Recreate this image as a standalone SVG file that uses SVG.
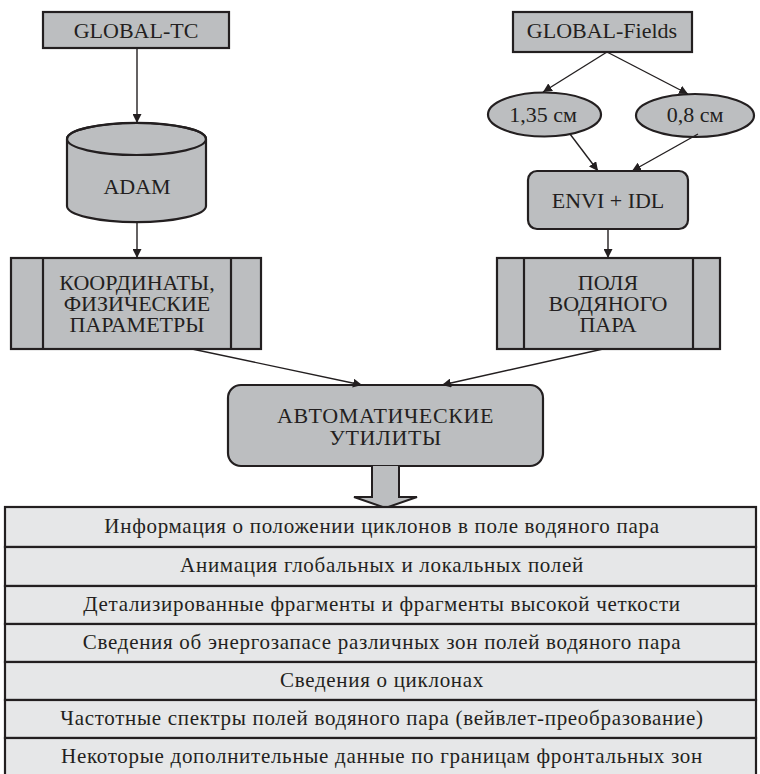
<svg xmlns="http://www.w3.org/2000/svg" width="760" height="774" viewBox="0 0 760 774">
<defs>
<marker id="ah" viewBox="0 0 10 10" refX="10" refY="5" markerWidth="9" markerHeight="9" markerUnits="userSpaceOnUse" orient="auto">
<path d="M0,0 L10,5 L0,10 z" fill="#231f20"/>
</marker>
</defs>
<rect width="760" height="774" fill="#ffffff"/>
<g font-family="Liberation Serif" fill="#231f20" text-anchor="middle">
<g stroke="#231f20" stroke-width="2.2">
<g id="global-tc">
<rect fill="#bcbec0" x="43" y="12" width="186" height="36"/>
<text stroke="none" x="136" y="38" font-size="22">GLOBAL-TC</text>
</g>
<g id="adam">
<path fill="#bcbec0" d="M67,139 L67,206 A69,16 0 0 0 206,206 L206,139 A69,16 0 0 0 67,139 Z"/>
<ellipse cx="136.5" cy="139" rx="69.5" ry="16" fill="none"/>
<text stroke="none" x="137" y="194" font-size="22">ADAM</text>
</g>
<g id="coords">
<rect fill="#bcbec0" x="11" y="258" width="250" height="91"/>
<line x1="43" y1="258" x2="43" y2="349"/>
<line x1="231" y1="258" x2="231" y2="349"/>
<text stroke="none" x="137" y="290" font-size="22">КООРДИНАТЫ,</text>
<text stroke="none" x="137" y="311" font-size="22">ФИЗИЧЕСКИЕ</text>
<text stroke="none" x="137" y="332" font-size="22">ПАРАМЕТРЫ</text>
</g>
<g id="global-fields">
<rect fill="#bcbec0" x="513" y="12" width="179" height="40"/>
<text stroke="none" x="602" y="38" font-size="22">GLOBAL-Fields</text>
</g>
<g id="e135">
<ellipse fill="#bcbec0" cx="544.5" cy="114.5" rx="56.5" ry="22"/>
<text stroke="none" x="543" y="122" font-size="22">1,35 см</text>
</g>
<g id="e08">
<ellipse fill="#bcbec0" cx="695" cy="115.5" rx="59" ry="21.5"/>
<text stroke="none" x="695" y="122" font-size="22">0,8 см</text>
</g>
<g id="envi">
<rect fill="#bcbec0" x="528" y="171" width="160" height="58" rx="9"/>
<text stroke="none" x="608" y="208" font-size="22">ENVI + IDL</text>
</g>
<g id="fields">
<rect fill="#bcbec0" x="497" y="258" width="223" height="91"/>
<line x1="524" y1="258" x2="524" y2="349"/>
<line x1="693" y1="258" x2="693" y2="349"/>
<text stroke="none" x="608" y="290" font-size="22">ПОЛЯ</text>
<text stroke="none" x="608" y="311" font-size="22">ВОДЯНОГО</text>
<text stroke="none" x="608" y="332" font-size="22">ПАРА</text>
</g>
<g id="auto">
<rect fill="#bcbec0" x="228" y="385" width="315" height="81" rx="13"/>
<text stroke="none" x="385.5" y="423" font-size="22" letter-spacing="0.6">АВТОМАТИЧЕСКИЕ</text>
<text stroke="none" x="385.5" y="445" font-size="22" letter-spacing="0.6">УТИЛИТЫ</text>
</g>
</g>
<g id="connectors" stroke="#231f20" stroke-width="1.4" fill="none">
<line marker-end="url(#ah)" x1="137" y1="48" x2="137" y2="123"/>
<line marker-end="url(#ah)" x1="137" y1="222" x2="137" y2="258"/>
<line marker-end="url(#ah)" x1="607" y1="52" x2="543" y2="92"/>
<line marker-end="url(#ah)" x1="607" y1="52" x2="688" y2="94"/>
<line marker-end="url(#ah)" x1="570" y1="134" x2="598" y2="171"/>
<line marker-end="url(#ah)" x1="698" y1="134" x2="632" y2="171"/>
<line marker-end="url(#ah)" x1="608" y1="229" x2="608" y2="258"/>
<line marker-end="url(#ah)" x1="192" y1="349" x2="362" y2="385"/>
<line marker-end="url(#ah)" x1="603" y1="349" x2="442" y2="385"/>
<path d="M372,466 L372,497 L354,497 L385.5,508 L417,497 L399,497 L399,466" fill="#bcbec0" stroke-width="2"/>
</g>
<g id="table" font-size="21" letter-spacing="0.7">
<g fill="#e6e7e8" stroke="#231f20" stroke-width="2.2">
<rect x="5" y="507" width="751" height="40"/>
<rect x="5" y="547" width="751" height="39"/>
<rect x="5" y="586" width="751" height="38"/>
<rect x="5" y="624" width="751" height="38"/>
<rect x="5" y="662" width="751" height="38"/>
<rect x="5" y="700" width="751" height="38"/>
<rect x="5" y="738" width="751" height="40"/>
</g>
<text x="382" y="533">Информация о положении циклонов в поле водяного пара</text>
<text x="382" y="572">Анимация глобальных и локальных полей</text>
<text x="382" y="611">Детализированные фрагменты и фрагменты высокой четкости</text>
<text x="382" y="649">Сведения об энергозапасе различных зон полей водяного пара</text>
<text x="382" y="687">Сведения о циклонах</text>
<text x="382" y="725">Частотные спектры полей водяного пара (вейвлет-преобразование)</text>
<text x="382" y="763">Некоторые дополнительные данные по границам фронтальных зон</text>
</g>
</g>
</svg>
